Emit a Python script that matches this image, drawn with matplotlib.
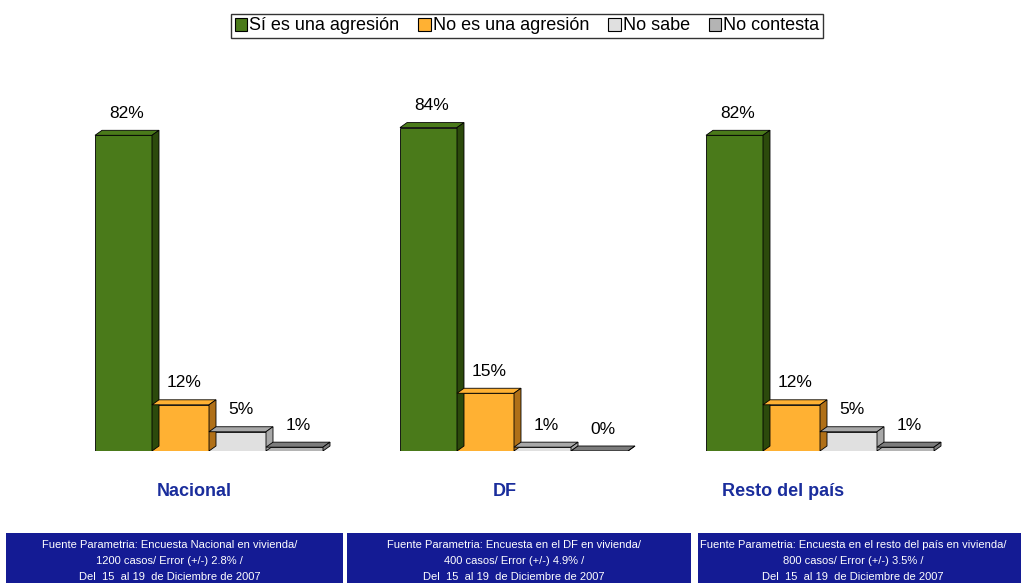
import matplotlib
matplotlib.use("Agg")
import matplotlib.pyplot as plt
from matplotlib.patches import Polygon, Patch, Rectangle

plt.rcParams['font.family'] = ['Liberation Sans', 'DejaVu Sans']

# datos
regiones = ["Nacional", "DF", "Resto del país"]
respuestas = ["Sí es una agresión", "No es una agresión", "No sabe", "No contesta"]
valores = [
    [82, 12, 5, 1],
    [84, 15, 1, 0],
    [82, 12, 5, 1],
]
fuentes = [
    ["Fuente Parametria: Encuesta Nacional en vivienda/", "1200 casos/ Error (+/-) 2.8% /",
     "Del  15  al 19  de Diciembre de 2007"],
    ["Fuente Parametria: Encuesta en el DF en vivienda/", "400 casos/ Error (+/-) 4.9% /",
     "Del  15  al 19  de Diciembre de 2007"],
    ["Fuente Parametria: Encuesta en el resto del país en vivienda/", "800 casos/ Error (+/-) 3.5% /",
     "Del  15  al 19  de Diciembre de 2007"],
]

colores = ["#4a7a1a", "#ffb133", "#e0e0e0", "#b4b4b4"]
lados = ["#2c4a0c", "#b07018", "#a8a8a8", "#7c7c7c"]

W, H = 1021, 583
fig = plt.figure(figsize=(W / 100, H / 100), dpi=100)

inicio_px = [95, 400, 706]
titulo_px = [194, 505, 783]
ancho_px = 57.0
px_por_pct = 3.85
dx = 7 / ancho_px
dy = 5 / px_por_pct

for i, reg in enumerate(regiones):
    izq = inicio_px[i] - 10
    ax = fig.add_axes([izq / W, 1 - 451 / H, 260 / W, 361 / H])
    ax.set_xlim(-10 / ancho_px, 250 / ancho_px)
    ax.set_ylim(0, 361 / px_por_pct)
    ax.axis('off')
    vals = valores[i]
    ax.bar(range(4), vals, width=1, align='edge', color=colores,
           edgecolor='black', linewidth=0.6, zorder=2)
    for j, v in enumerate(vals):
        x = j
        tapa = [(x, v), (x + 1, v), (x + 1 + dx, v + dy), (x + dx, v + dy)]
        lado = [(x + 1, 0), (x + 1 + dx, dy), (x + 1 + dx, v + dy), (x + 1, v)]
        ax.add_patch(Polygon(tapa, closed=True, facecolor=lados[j] if j > 1 else colores[j],
                             edgecolor='black', linewidth=0.6, zorder=3))
        ax.add_patch(Polygon(lado, closed=True, facecolor=lados[j],
                             edgecolor='black', linewidth=0.6, zorder=3))
        ax.text(x + 0.5 + dx / 2, v + 22 / px_por_pct, f"{v}%",
                ha='center', va='center', fontsize=12.5, color='black')
    fig.text(titulo_px[i] / W, 1 - 492 / H, reg, ha='center', va='center',
             fontsize=13, fontweight='bold', color='#1a2d9c')

# cajas de fuente
cajas = [(6, 343), (347, 691), (698, 1030)]
for (a, b), lineas in zip(cajas, fuentes):
    fig.patches.append(Rectangle((a / W, 0), (b - a) / W, (583 - 533) / H,
                                 transform=fig.transFigure, facecolor='#141b94',
                                 edgecolor='none'))
    cx = min((a + b) / 2, 858) - 5
    for k, linea in enumerate(lineas):
        fig.text(cx / W, 1 - (545 + 16 * k) / H, linea, ha='center', va='center',
                 fontsize=8, color='white')

handles = [Patch(facecolor=c, edgecolor='black', linewidth=0.8) for c in colores]
leg = fig.legend(handles, respuestas, loc='center', bbox_to_anchor=(527 / W, 1 - 26 / H),
                 ncol=4, fontsize=13, frameon=True, fancybox=False,
                 handlelength=0.7, handleheight=0.7, handletextpad=0.1,
                 columnspacing=1.05, borderpad=0.2, borderaxespad=0)
leg.get_frame().set_edgecolor('black')
leg.get_frame().set_linewidth(1.0)

fig.savefig("out.png", dpi=100)
